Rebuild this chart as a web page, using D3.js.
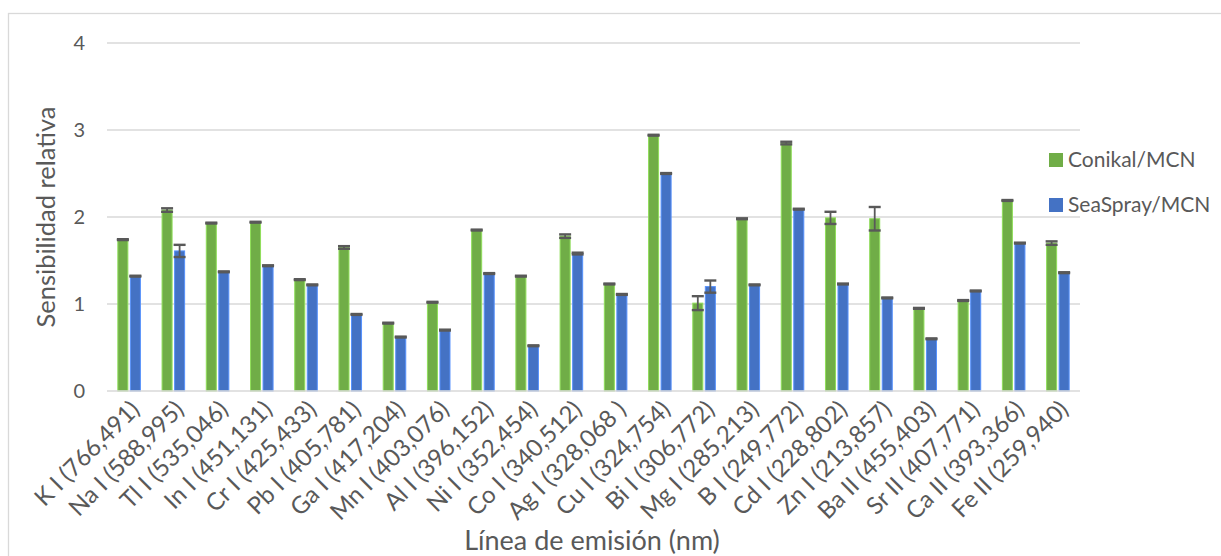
<!DOCTYPE html>
<html>
<head>
<meta charset="utf-8">
<script src="https://cdn.jsdelivr.net/npm/d3@7"></script>
<style>
  html, body { margin: 0; padding: 0; background: #fff; }
  svg { display: block; }
  text { font-family: Lato, "Open Sans", sans-serif; fill: #595959; }
</style>
</head>
<body>
<svg id="chart" width="1221" height="556"></svg>
<script>
// Emission lines (element, ionisation state, wavelength in nm)
const categories = [
  "K I (766,491)", "Na I (588,995)", "Tl I (535,046)", "In I (451,131)",
  "Cr I (425,433)", "Pb I (405,781)", "Ga I (417,204)", "Mn I (403,076)",
  "Al I (396,152)", "Ni I (352,454)", "Co I (340,512)", "Ag I (328,068 )",
  "Cu I (324,754)", "Bi I (306,772)", "Mg I (285,213)", "B I (249,772)",
  "Cd I (228,802)", "Zn I (213,857)", "Ba II (455,403)", "Sr II (407,771)",
  "Ca II (393,366)", "Fe II (259,940)"
];

const seriesNames = ["Conikal/MCN", "SeaSpray/MCN"];

// Relative sensitivity of each nebulizer versus the concentric nebulizer
const conikal = [1.74, 2.08, 1.93, 1.94, 1.28, 1.65, 0.78, 1.02, 1.85, 1.32, 1.78,
                 1.23, 2.94, 1.01, 1.98, 2.85, 1.99, 1.98, 0.95, 1.04, 2.19, 1.70];
const seaspray = [1.32, 1.61, 1.37, 1.44, 1.22, 0.88, 0.62, 0.70, 1.35, 0.52, 1.58,
                  1.11, 2.50, 1.20, 1.22, 2.09, 1.23, 1.07, 0.60, 1.15, 1.70, 1.36];

// Standard deviations (error bars)
const conikalErr = [0.005, 0.02, 0.005, 0.005, 0.005, 0.015, 0.005, 0.005, 0.005, 0.005, 0.02,
                    0.005, 0.005, 0.08, 0.005, 0.015, 0.07, 0.135, 0.005, 0.005, 0.005, 0.02];
const seasprayErr = [0.005, 0.07, 0.005, 0.005, 0.005, 0.005, 0.005, 0.005, 0.005, 0.005, 0.01,
                     0.005, 0.005, 0.07, 0.005, 0.005, 0.005, 0.005, 0.005, 0.005, 0.005, 0.005];

const yTicks = [0, 1, 2, 3, 4];

const colors = ["#70AD47", "#4472C4"];
const values = [conikal, seaspray];
const errors = [conikalErr, seasprayErr];

const rows = categories.map((c, i) => ({
  cat: c,
  bars: seriesNames.map((s, k) => ({ series: s, k, v: values[k][i], e: errors[k][i] }))
}));

const svg = d3.select("#chart");
const plot = { left: 107, right: 1080, top: 43, bottom: 391 };

// Chart area frame
svg.append("rect")
  .attr("x", 8.5).attr("y", 13.5)
  .attr("width", 1400).attr("height", 800)
  .attr("fill", "none").attr("stroke", "#d9d9d9").attr("stroke-width", 1.3);

const x0 = d3.scaleBand().domain(categories)
  .range([plot.left, plot.right]).paddingInner(0.49).paddingOuter(0.245);
const x1 = d3.scaleBand().domain(seriesNames)
  .range([0, x0.bandwidth()]).paddingInner(0.2);
const y = d3.scaleLinear().domain([0, 4]).range([plot.bottom, plot.top]);

// Horizontal gridlines
svg.append("g").selectAll("line").data(yTicks.filter(t => t > 0)).join("line")
  .attr("x1", plot.left).attr("x2", plot.right)
  .attr("y1", d => y(d)).attr("y2", d => y(d))
  .attr("stroke", "#d9d9d9").attr("stroke-width", 1.3);

// Y axis labels
const yAxis = d3.axisLeft(y).tickValues(yTicks).tickSize(0).tickPadding(0)
  .tickFormat(d3.format("d"));
const gy = svg.append("g").attr("transform", `translate(85,0)`).call(yAxis);
gy.select(".domain").remove();
gy.selectAll("text").attr("font-size", 20).attr("fill", "#595959")
  .attr("font-family", "Lato, sans-serif");

// Bars
const groups = svg.append("g").selectAll("g").data(rows).join("g")
  .attr("transform", d => `translate(${x0(d.cat)},0)`);

groups.selectAll("rect").data(d => d.bars).join("rect")
  .attr("x", d => x1(d.series))
  .attr("y", d => y(d.v))
  .attr("width", x1.bandwidth())
  .attr("height", d => y(0) - y(d.v))
  .attr("fill", d => colors[d.k])
  .attr("stroke", d => d3.color(colors[d.k]).brighter(0.7))
  .attr("stroke-width", 1);

// Error bars
const eb = groups.selectAll("g.err").data(d => d.bars).join("g").attr("class", "err")
  .attr("transform", d => `translate(${x1(d.series) + x1.bandwidth() / 2},0)`);
eb.append("line")
  .attr("x1", 0).attr("x2", 0)
  .attr("y1", d => y(d.v + d.e)).attr("y2", d => y(d.v - d.e))
  .attr("stroke", "#595959").attr("stroke-width", 1.8);
eb.selectAll("line.cap").data(d => [d.v + d.e, d.v - d.e]).join("line").attr("class", "cap")
  .attr("x1", -6).attr("x2", 6)
  .attr("y1", d => y(d)).attr("y2", d => y(d))
  .attr("stroke", "#595959").attr("stroke-width", 2.4);

// Baseline
svg.append("line")
  .attr("x1", plot.left).attr("x2", plot.right)
  .attr("y1", y(0)).attr("y2", y(0))
  .attr("stroke", "#d9d9d9").attr("stroke-width", 1.6);

// Rotated category labels
svg.append("g").selectAll("text").data(categories).join("text")
  .attr("transform", d => `translate(${x0(d) + x0.bandwidth() / 2 + 6},${plot.bottom + 14}) rotate(-45)`)
  .attr("text-anchor", "end")
  .attr("dy", "0.35em")
  .attr("font-size", 24)
  .text(d => d);

// Axis titles
svg.append("text")
  .attr("transform", `translate(55,217) rotate(-90)`)
  .attr("text-anchor", "middle")
  .attr("font-size", 25.5)
  .text("Sensibilidad relativa");

svg.append("text")
  .attr("x", 592).attr("y", 550)
  .attr("text-anchor", "middle")
  .attr("font-size", 27)
  .text("Línea de emisión (nm)");

// Legend
const legend = svg.append("g").selectAll("g").data(seriesNames).join("g")
  .attr("transform", (d, i) => `translate(1049,${153 + i * 45})`);
legend.append("rect")
  .attr("width", 14).attr("height", 14)
  .attr("fill", (d, i) => colors[i]);
legend.append("text")
  .attr("x", 19).attr("y", 7).attr("dy", "0.35em")
  .attr("font-size", 21)
  .text(d => d);
</script>
</body>
</html>
